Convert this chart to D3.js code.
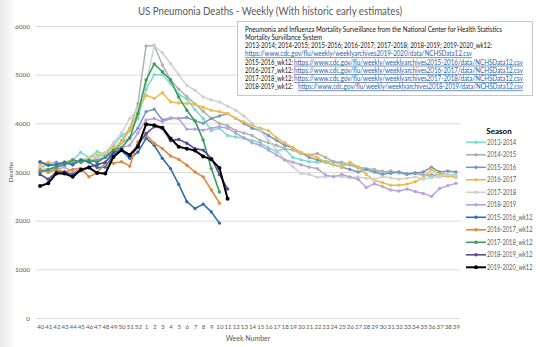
<!DOCTYPE html>
<html>
<head>
<meta charset="utf-8">
<script src="https://cdn.jsdelivr.net/npm/d3@7"></script>
<style>
  body { margin: 0; background: #fff; }
  svg { display: block; font-family: Lato, "Open Sans", sans-serif; }
</style>
</head>
<body>
<svg id="chart" width="540" height="347"></svg>
<script>
// Week numbers, flu season runs week 40 through week 39
const weeks = ["40","41","42","43","44","45","46","47","48","49","50","51","52",
  "1","2","3","4","5","6","7","8","9","10","11","12","13","14","15","16","17","18","19",
  "20","21","22","23","24","25","26","27","28","29","30","31","32","33","34","35","36","37","38","39"];

const yTicks = [0, 1000, 2000, 3000, 4000, 5000, 6000];

// Full seasons
const s2013_2014 = [3050, 3020, 3100, 3200, 3250, 3400, 3300, 3420, 3350, 3550, 3750, 3850, 4100,
  4700, 5000, 5000, 4820, 4600, 4500, 4280, 4100, 3850, 3900, 3750, 3720,
  3700, 3650, 3600, 3500, 3420, 3480, 3300, 3250, 3210, 3200, 3220, 3210, 3150, 3150, 3080, 3050,
  3000, 3020, 2970, 3000, 2960, 2990, 2950, 2900, 2980, 2950, 2940];
const s2014_2015 = [3100, 3150, 3100, 3200, 3150, 3250, 3200, 3300, 3350, 3450, 3650, 3900, 4400,
  5590, 5600, 5200, 4900, 4700, 4550, 4400, 4250, 4100, 4000, 3950, 3850,
  3800, 3750, 3650, 3600, 3550, 3480, 3450, 3380, 3350, 3380, 3300, 3210, 3200, 3150, 3100, 3070,
  3050, 3000, 3020, 2980, 2950, 2970, 2930, 2950, 2900, 2920, 2900];
const s2015_2016 = [3200, 3150, 3200, 3150, 3200, 3250, 3200, 3250, 3300, 3400, 3600, 3700, 3900,
  4240, 4290, 4070, 4110, 4100, 4120, 4050, 4000, 4100, 4150, 4200, 4100,
  4000, 3900, 3850, 3750, 3650, 3550, 3500, 3400, 3300, 3250, 3200, 3150, 3100, 3050, 3000, 3050,
  3000, 2950, 2980, 3000, 2960, 2980, 3000, 3100, 3000, 3020, 3000];
const s2016_2017 = [3150, 3200, 3150, 3200, 3250, 3200, 3300, 3350, 3400, 3500, 3600, 3860, 4250,
  4580, 4510, 4630, 4440, 4420, 4410, 4390, 4330, 4270, 4240, 4200, 4100,
  4030, 3950, 3900, 3850, 3700, 3600, 3500, 3400, 3350, 3300, 3200, 3150, 3100, 3200, 3110, 2950,
  2830, 2780, 2730, 2730, 2750, 2800, 2880, 3050, 2950, 2920, 2890];
const s2017_2018 = [3100, 3050, 3150, 3200, 3150, 3250, 3300, 3300, 3400, 3600, 3800, 4100, 4300,
  4800, 5590, 5450, 5230, 5000, 4780, 4680, 4540, 4480, 4440, 4350, 4270,
  4150, 4000, 3850, 3650, 3450, 3250, 3110, 2970, 2950, 2890, 2900, 2920, 2900, 2880, 2900, 2870,
  2850, 2900, 2880, 2850, 2870, 2900, 2850, 2880, 2900, 2950, 2920];
const s2018_2019 = [3050, 3000, 3050, 3100, 3000, 3050, 3100, 3150, 3200, 3350, 3500, 3550, 3800,
  4070, 4100, 4030, 4100, 4100, 3880, 3880, 3860, 3900, 3930, 3900, 3800,
  3700, 3600, 3550, 3450, 3350, 3250, 3200, 3150, 3100, 3070, 2940, 2900, 2950, 2900, 2850, 2680,
  2760, 2700, 2630, 2610, 2650, 2600, 2560, 2500, 2660, 2720, 2770];

// Early estimates as of week 12
const s2015_2016wk12 = [3210, 3140, 3150, 3200, 3150, 3250, 3210, 3090, 3100, 3350, 3440, 3280, 3410,
  3690, 3550, 3280, 3070, 2745, 2390, 2250, 2340, 2180, 1950];
const s2016_2017wk12 = [3040, 3000, 3050, 3000, 3050, 3080, 2900, 2990, 3180, 3180, 3210, 3120, 3620,
  3760, 3590, 3480, 3330, 3260, 3140, 3000, 2900, 2630, 2360];
const s2017_2018wk12 = [3000, 3050, 3100, 3150, 3250, 3200, 3250, 3200, 3300, 3450, 3500, 3700, 4200,
  4890, 5220, 5060, 4890, 4540, 4270, 4050, 3660, 3070, 2590];
const s2018_2019wk12 = [2950, 2850, 3000, 3000, 2950, 3050, 3100, 3150, 3200, 3400, 3450, 3350, 3550,
  3790, 3930, 3900, 3640, 3670, 3590, 3480, 3450, 3280, 2950, 2650];
const s2019_2020wk12 = [2710, 2770, 2970, 2970, 2900, 3040, 3090, 2980, 2970, 3310, 3450, 3350, 3520,
  3980, 3960, 3910, 3690, 3520, 3480, 3440, 3320, 3260, 3080, 2450];

const seriesNames = ["2013-2014", "2014-2015", "2015-2016", "2016-2017", "2017-2018", "2018-2019",
  "2015-2016_wk12", "2016-2017_wk12", "2017-2018_wk12", "2018-2019_wk12", "2019-2020_wk12"];
const seriesValues = [s2013_2014, s2014_2015, s2015_2016, s2016_2017, s2017_2018, s2018_2019,
  s2015_2016wk12, s2016_2017wk12, s2017_2018wk12, s2018_2019wk12, s2019_2020wk12];
const seriesColors = ["#7adbd0", "#b1b1b1", "#7b98c4", "#eebd48", "#d0d0d0", "#b8a2dd",
  "#2f6fb1", "#dc8b3d", "#3d9e5b", "#5b4a98", "#000000"];

const sourceLines = [
  { label: "Pneumonia and Influenza Mortality Surveillance from the National Center for Health Statistics", w: 257 },
  { label: "Mortality Survillance System", w: 77 },
  { label: "2013-2014; 2014-2015; 2015-2016; 2016-2017; 2017-2018; 2018-2019; 2019-2020_wk12:", w: 247 },
  { link: "https://www.cdc.gov/flu/weekly/weeklyarchives2019-2020/data/NCHSData12.csv", lx: 0, lw: 227 },
  { label: "2015-2016_wk12:", w: 48, link: "https://www.cdc.gov/flu/weekly/weeklyarchives2015-2016/data/NCHSData12.csv", lx: 49, lw: 229 },
  { label: "2016-2017_wk12:", w: 48, link: "https://www.cdc.gov/flu/weekly/weeklyarchives2016-2017/data/NCHSData12.csv", lx: 49, lw: 229 },
  { label: "2017-2018_wk12:", w: 48, link: "https://www.cdc.gov/flu/weekly/weeklyarchives2017-2018/data/NCHSData12.csv", lx: 49, lw: 229 },
  { label: "2018-2019_wk12:", w: 48, link: "https://www.cdc.gov/flu/weekly/weeklyarchives2018-2019/data/NCHSData12.csv", lx: 53, lw: 225 }
];

const svg = d3.select("#chart");
const plot = { left: 36, right: 460, top: 26, bottom: 318 };

// faint shading down the left edge
const defs = svg.append("defs");
const grad = defs.append("linearGradient").attr("id", "edge");
grad.append("stop").attr("offset", "0%").attr("stop-color", "#e9e9e9");
grad.append("stop").attr("offset", "100%").attr("stop-color", "#ffffff");
svg.append("rect").attr("x", 0).attr("y", 0).attr("width", 16).attr("height", 347).attr("fill", "url(#edge)");

const x = d3.scalePoint().domain(weeks).range([plot.left, plot.right]).padding(0.5);
const y = d3.scaleLinear().domain([0, 6000]).range([plot.bottom, plot.top]);

// Title
svg.append("text")
  .attr("x", 138).attr("y", 15)
  .attr("font-size", 11).attr("fill", "#595959")
  .attr("textLength", 264).attr("lengthAdjust", "spacingAndGlyphs")
  .text("US Pneumonia Deaths - Weekly (With historic early estimates)");

// Gridlines + y labels
const yAxis = d3.axisLeft(y).tickValues(yTicks).tickFormat(d3.format("d"))
  .tickSize(-(plot.right - plot.left)).tickPadding(6);
const gy = svg.append("g").attr("transform", `translate(${plot.left},0)`).call(yAxis);
gy.select(".domain").remove();
gy.selectAll(".tick line").attr("stroke", "#dcdcdc").attr("stroke-width", 1);
gy.selectAll(".tick text").attr("font-size", 6.5).attr("fill", "#595959")
  .attr("font-family", "Lato, sans-serif");

// x labels
const xAxis = d3.axisBottom(x).tickSize(0).tickPadding(7);
const gx = svg.append("g").attr("transform", `translate(0,${plot.bottom})`).call(xAxis);
gx.select(".domain").remove();
gx.selectAll(".tick text").attr("font-size", 6.2).attr("fill", "#595959")
  .attr("font-family", "Lato, sans-serif");

svg.append("text").attr("x", 248).attr("y", 340.5).attr("text-anchor", "middle")
  .attr("font-size", 7).attr("fill", "#595959").text("Week Number");
svg.append("text").attr("transform", "translate(12.5,172) rotate(-90)").attr("text-anchor", "middle")
  .attr("font-size", 6.5).attr("fill", "#595959").text("Deaths");

// Series
const line = d3.line().x((d, i) => x(weeks[i])).y(d => y(d));
seriesValues.forEach((vals, k) => {
  const wk12 = k >= 6;
  const isBlack = k === 10;
  const g = svg.append("g");
  g.append("path").datum(vals)
    .attr("fill", "none")
    .attr("stroke", seriesColors[k])
    .attr("stroke-width", isBlack ? 2 : (wk12 ? 1.6 : 1.5))
    .attr("stroke-linejoin", "round")
    .attr("d", line);
  g.selectAll("circle").data(vals).join("circle")
    .attr("cx", (d, i) => x(weeks[i]))
    .attr("cy", d => y(d))
    .attr("r", isBlack ? 2 : 1.7)
    .attr("fill", seriesColors[k]);
});

// Source note box
const note = svg.append("g");
note.append("rect").attr("x", 237.5).attr("y", 21.5).attr("width", 295).attr("height", 74)
  .attr("fill", "#fff").attr("stroke", "#c6c6c6");
sourceLines.forEach((ln, i) => {
  const by = 31.7 + i * 8.25;
  if (ln.label) {
    note.append("text").attr("x", 245).attr("y", by)
      .attr("font-size", 6.6).attr("fill", "#111")
      .attr("textLength", ln.w).attr("lengthAdjust", "spacingAndGlyphs")
      .text(ln.label);
  }
  if (ln.link) {
    note.append("text").attr("x", 245 + ln.lx).attr("y", by)
      .attr("font-size", 6.6).attr("fill", "#2a60a8")
      .attr("text-decoration", "underline")
      .attr("textLength", ln.lw).attr("lengthAdjust", "spacingAndGlyphs")
      .text(ln.link);
  }
});

// Legend
const leg = svg.append("g");
leg.append("text").attr("x", 499).attr("y", 134).attr("text-anchor", "middle")
  .attr("font-size", 8).attr("font-weight", "bold").attr("fill", "#000").text("Season");
seriesNames.forEach((name, k) => {
  const ly = 142.3 + k * 12.5;
  leg.append("line").attr("x1", 466).attr("x2", 486).attr("y1", ly).attr("y2", ly)
    .attr("stroke", seriesColors[k]).attr("stroke-width", k === 10 ? 2 : 1.6);
  leg.append("circle").attr("cx", 476).attr("cy", ly).attr("r", k === 10 ? 2 : 1.7)
    .attr("fill", seriesColors[k]);
  leg.append("text").attr("x", 487).attr("y", ly + 2.3)
    .attr("font-size", 6.7).attr("fill", "#595959")
    .attr("textLength", name.length * 3.25).attr("lengthAdjust", "spacingAndGlyphs")
    .text(name);
});
</script>
</body>
</html>
